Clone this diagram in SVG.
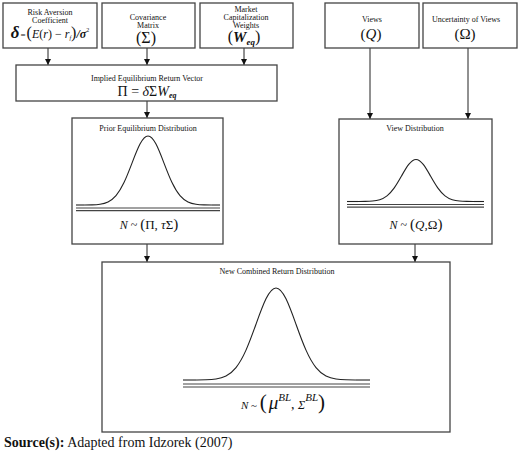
<svg xmlns="http://www.w3.org/2000/svg" xmlns:xlink="http://www.w3.org/1999/xlink" width="520" height="456" viewBox="0 0 520 456">
<style>
  text { font-family: "Liberation Serif", "Times New Roman", serif; fill: #111; }
  .lbl { font-size: 8px; text-anchor: middle; }
  .mid { text-anchor: middle; }
  .box { fill: #fff; stroke: #444; stroke-width: 1.3; }
  .conn { stroke: #222; stroke-width: 1; fill: none; marker-end: url(#arr); }
  .axis { stroke: #444; stroke-width: 1.2; }
  .tail { stroke: #222; stroke-width: 1.1; }
  .bell { fill: none; stroke: #222; stroke-width: 1.1; vector-effect: non-scaling-stroke; }
  .it { font-style: italic; }
</style>
<defs>
  <marker id="arr" markerUnits="userSpaceOnUse" markerWidth="6" markerHeight="6" refX="6" refY="3" orient="auto">
    <path d="M0,0 L6,3 L0,6 z" fill="#111"/>
  </marker>
  <path id="bell" class="bell" d="M-4,0 C-3.8333,-0.0005 -3.6667,-0.0009 -3.5,-0.0022 C-3.3333,-0.0035 -3.1667,-0.0056 -3,-0.0111 C-2.8333,-0.0167 -2.6667,-0.0256 -2.5,-0.0439 C-2.3333,-0.0622 -2.1667,-0.0902 -2,-0.1353 C-1.8333,-0.1804 -1.6667,-0.2435 -1.5,-0.3247 C-1.3333,-0.4059 -1.1667,-0.5054 -1,-0.6065 C-0.8333,-0.7076 -0.6667,-0.8090 -0.5,-0.8825 C-0.3333,-0.9560 -0.1667,-1 0,-1 C0.1667,-1 0.3333,-0.9560 0.5,-0.8825 C0.6667,-0.8090 0.8333,-0.7076 1,-0.6065 C1.1667,-0.5054 1.3333,-0.4059 1.5,-0.3247 C1.6667,-0.2435 1.8333,-0.1804 2,-0.1353 C2.1667,-0.0902 2.3333,-0.0622 2.5,-0.0439 C2.6667,-0.0256 2.8333,-0.0167 3,-0.0111 C3.1667,-0.0056 3.3333,-0.0035 3.5,-0.0022 C3.6667,-0.0009 3.8333,-0.0005 4,0"/>
</defs>

<g id="connectors">
  <line class="conn" x1="48" y1="48" x2="48" y2="65"/>
  <line class="conn" x1="147" y1="48" x2="147" y2="65"/>
  <line class="conn" x1="244" y1="48" x2="244" y2="65"/>
  <line class="conn" x1="147" y1="101" x2="147" y2="118"/>
  <line class="conn" x1="370" y1="48" x2="370" y2="119"/>
  <line class="conn" x1="468" y1="48" x2="468" y2="119"/>
  <line class="conn" x1="147" y1="244" x2="147" y2="262"/>
  <line class="conn" x1="415" y1="244" x2="415" y2="262"/>
</g>

<g id="risk-aversion">
  <rect class="box" x="3" y="3" width="94" height="45"/>
  <text class="lbl" x="50" y="15">Risk Aversion</text>
  <text class="lbl" x="50" y="23">Coefficient</text>
  <text class="mid" x="50" y="38"><tspan font-size="17" class="it" font-weight="bold">δ</tspan><tspan font-size="9" dx="1">=</tspan><tspan font-size="16" dx="1">(</tspan><tspan font-size="12" class="it">E</tspan><tspan font-size="12">(</tspan><tspan font-size="12" class="it">r</tspan><tspan font-size="12">) − </tspan><tspan font-size="12" class="it">r</tspan><tspan font-size="6" class="it" dy="2">f</tspan><tspan font-size="16" dy="-2">)</tspan><tspan font-size="12" class="it" font-weight="bold">/σ</tspan><tspan font-size="6" dy="-6">2</tspan></text>
</g>

<g id="covariance">
  <rect class="box" x="102" y="3" width="93" height="45"/>
  <text class="lbl" x="148" y="20">Covariance</text>
  <text class="lbl" x="148" y="28">Matrix</text>
  <text class="mid" x="146" y="43" font-size="16">(Σ)</text>
</g>

<g id="market-weights">
  <rect class="box" x="200" y="3" width="93" height="45"/>
  <text class="lbl" x="246" y="12">Market</text>
  <text class="lbl" x="246" y="20">Capitalization</text>
  <text class="lbl" x="246" y="28">Weights</text>
  <text class="mid" x="244" y="42"><tspan font-size="16">(</tspan><tspan font-size="15" class="it" font-weight="bold">W</tspan><tspan font-size="9" class="it" font-weight="bold" dy="3">eq</tspan><tspan font-size="16" dy="-3">)</tspan></text>
</g>

<g id="views">
  <rect class="box" x="325" y="3" width="94" height="45"/>
  <text class="lbl" x="372" y="22">Views</text>
  <text class="mid" x="371" y="39"><tspan font-size="15">(</tspan><tspan font-size="15" class="it">Q</tspan><tspan font-size="15">)</tspan></text>
</g>

<g id="uncertainty">
  <rect class="box" x="423" y="3" width="94" height="45"/>
  <text class="lbl" x="466" y="22">Uncertainty of Views</text>
  <text class="mid" x="465" y="39" font-size="15">(Ω)</text>
</g>

<g id="implied">
  <rect class="box" x="16" y="65" width="261" height="36"/>
  <text class="lbl" x="147" y="81">Implied Equilibrium Return Vector</text>
  <text class="mid" x="147" y="96"><tspan font-size="14">Π = </tspan><tspan font-size="14" class="it">δ</tspan><tspan font-size="14">Σ</tspan><tspan font-size="14" class="it">W</tspan><tspan font-size="8" class="it" font-weight="bold" dy="2">eq</tspan></text>
</g>

<g id="prior">
  <rect class="box" x="72" y="118" width="151" height="126"/>
  <text class="lbl" x="148" y="131">Prior Equilibrium Distribution</text>
  <use xlink:href="#bell" href="#bell" transform="translate(148,205) scale(16,69)"/>
  <line class="tail" x1="76" y1="205" x2="84" y2="205"/>
  <line class="tail" x1="212" y1="205" x2="220" y2="205"/>
  <line class="axis" x1="76" y1="208" x2="220" y2="208"/>
  <line class="axis" x1="76" y1="210.6" x2="220" y2="210.6"/>
  <text class="mid" x="149" y="229"><tspan font-size="12" class="it">N</tspan><tspan font-size="12"> ~ </tspan><tspan font-size="15">(</tspan><tspan font-size="13">Π, </tspan><tspan font-size="13" class="it">τ</tspan><tspan font-size="13">Σ</tspan><tspan font-size="15">)</tspan></text>
</g>

<g id="view-dist">
  <rect class="box" x="339" y="119" width="153" height="125"/>
  <text class="lbl" x="415" y="131">View Distribution</text>
  <use xlink:href="#bell" href="#bell" transform="translate(416,201.5) scale(14.5,42)"/>
  <line class="tail" x1="347" y1="201.5" x2="358" y2="201.5"/>
  <line class="tail" x1="474" y1="201.5" x2="484" y2="201.5"/>
  <line class="axis" x1="347" y1="204.5" x2="484" y2="204.5"/>
  <line class="axis" x1="347" y1="207.2" x2="484" y2="207.2"/>
  <text class="mid" x="416" y="229"><tspan font-size="12" class="it">N</tspan><tspan font-size="12"> ~ </tspan><tspan font-size="15">(</tspan><tspan font-size="13" class="it">Q</tspan><tspan font-size="13">,Ω</tspan><tspan font-size="15">)</tspan></text>
</g>

<g id="combined">
  <rect class="box" x="102" y="262" width="348" height="170"/>
  <text class="lbl" x="277" y="274">New Combined Return Distribution</text>
  <use xlink:href="#bell" href="#bell" transform="translate(276,380) scale(20,92)"/>
  <line class="tail" x1="183" y1="380" x2="196" y2="380"/>
  <line class="tail" x1="356" y1="380" x2="370" y2="380"/>
  <line class="axis" x1="183" y1="384" x2="370" y2="384"/>
  <line class="axis" x1="183" y1="387" x2="370" y2="387"/>
  <text class="mid" x="283" y="409"><tspan font-size="11" class="it">N</tspan><tspan font-size="11"> ~ </tspan><tspan font-size="21">(</tspan><tspan font-size="19" class="it" dx="2">μ</tspan><tspan font-size="11" class="it" dy="-8">BL</tspan><tspan font-size="14" dy="8">, </tspan><tspan font-size="12" class="it">Σ</tspan><tspan font-size="11" class="it" dy="-8">BL</tspan><tspan font-size="21" dy="8">)</tspan></text>
</g>

<text x="4" y="447" font-size="14"><tspan font-weight="bold">Source(s):</tspan> Adapted from Idzorek (2007)</text>
</svg>
